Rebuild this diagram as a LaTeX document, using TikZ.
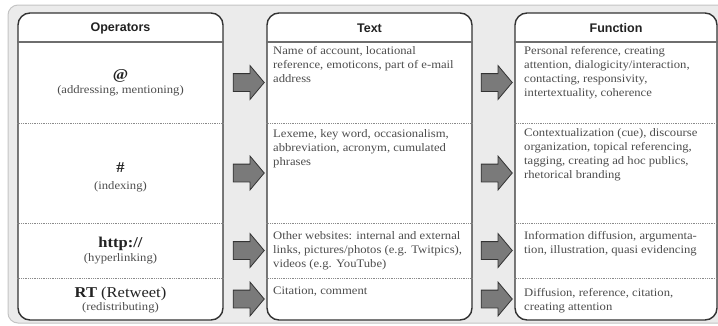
\documentclass[tikz,border=0pt]{standalone}
\usepackage{fontspec}
\setmainfont{Liberation Serif}[FakeStretch=1.1]
\newfontfamily\hdfont{Liberation Sans}
\usetikzlibrary{shapes.arrows}
\definecolor{bgfill}{HTML}{EBEBEB}
\definecolor{bgline}{HTML}{C4C4C4}
\definecolor{boxline}{HTML}{333333}
\definecolor{sepline}{HTML}{6E6E6E}
\definecolor{dotline}{HTML}{8A8A8A}
\definecolor{bodytxt}{HTML}{4D4D4D}
\definecolor{optxt}{HTML}{222222}
\definecolor{arrfill}{HTML}{7A7A7A}
\tikzset{
  colbox/.style={draw=boxline, line width=1.4pt, fill=white, rounded corners=12pt, inner sep=0pt},
  hd/.style={font=\hdfont\bfseries\fontsize{12.5}{14}\selectfont, text=optxt, inner sep=0pt},
  hdsep/.style={draw=sepline, line width=1.8pt},
  rowsep/.style={draw=dotline, line width=0.6pt, dash pattern=on 0.9pt off 0.9pt},
  body/.style={font=\fontsize{11.5}{14.2}\selectfont, text=bodytxt, align=left, inner sep=0pt, anchor=north west},
  opsym/.style={font=\bfseries\fontsize{15}{17}\selectfont, text=optxt, inner sep=0pt},
  opsub/.style={font=\fontsize{11.5}{13}\selectfont, text=bodytxt, inner sep=0pt},
  arr/.style={single arrow, draw=boxline, line width=0.8pt, fill=arrfill, minimum height=31pt,
    inner sep=8.5pt, single arrow head extend=8pt, single arrow tip angle=100},
}
\begin{document}
\begin{tikzpicture}[x=1pt,y=-1pt]
\useasboundingbox (0,0) rectangle (718,325);
\begin{scope}
\clip (0,0) rectangle (718,325);
\fill[bgfill, draw=bgline, line width=1pt, rounded corners=10pt] (8,5) rectangle (740,323);
\end{scope}
% columns
\node[colbox, minimum width=205pt, minimum height=307pt] (ops) at (120.5,166.5) {};
\node[colbox, minimum width=205pt, minimum height=307pt] (txt) at (369.5,166.5) {};
\node[colbox, minimum width=202pt, minimum height=307pt] (fun) at (616,166.5) {};
% header separators and row separators
\foreach \c in {ops,txt,fun}{
  \coordinate (\c h1) at (\c.west |- 0,42);
  \coordinate (\c h2) at (\c.east |- 0,42);
  \draw[hdsep] (\c h1) -- (\c h2);
  \foreach \y/\n in {123/a,223/b,278/c}{
    \coordinate (\c\n1) at (\c.west |- 0,\y);
    \coordinate (\c\n2) at (\c.east |- 0,\y);
    \draw[rowsep] (\c\n1) -- (\c\n2);
  }
}
% headers
\node[hd] (opsH) at (120.5,28) {Operators};
\node[hd] (txtH) at (369.5,28) {Text};
\node[hd] (funH) at (616,28) {Function};
% operators
\node[opsym] (at) at (120.5,76) {@};
\node[opsub] (atS) at (120.5,91) {(addressing, mentioning)};
\node[opsym] (hash) at (120.5,168) {\#};
\node[opsub] (hashS) at (120.5,187) {(indexing)};
\node[opsym] (http) at (120.5,244) {http://};
\node[opsub] (httpS) at (120.5,259) {(hyperlinking)};
\node[opsym] (rt) at (120.5,294) {RT \mdseries(Retweet)};
\node[opsub] (rtS) at (120.5,308) {(redistributing)};
% text column
\node[body] (t1) at (273,46) {Name of account, locational\\reference, emoticons, part of e-mail\\address};
\node[body] (t2) at (273,129) {Lexeme, key word, occasionalism,\\abbreviation, acronym, cumulated\\phrases};
\node[body] (t3) at (273,231) {Other websites: internal and external\\links, pictures/photos (e.g. Twitpics),\\videos (e.g. YouTube)};
\node[body] (t4) at (273,287) {Citation, comment};
% function column
\node[body] (f1) at (524,46) {Personal reference, creating\\attention, dialogicity/interaction,\\contacting, responsivity,\\intertextuality, coherence};
\node[body] (f2) at (524,128) {Contextualization (cue), discourse\\organization, topical referencing,\\tagging, creating ad hoc publics,\\rhetorical branding};
\node[body] (f3) at (524,231) {Information diffusion, argumenta-\\tion, illustration, quasi evidencing};
\node[body] (f4) at (524,288) {Diffusion, reference, citation,\\creating attention};
% arrows
\foreach \y/\n in {82.5/1,173/2,250.5/3,299/4}{
  \node[arr] (la\n) at (245,\y) {};
  \node[arr] (ra\n) at (493,\y) {};
}
\end{tikzpicture}
\end{document}
